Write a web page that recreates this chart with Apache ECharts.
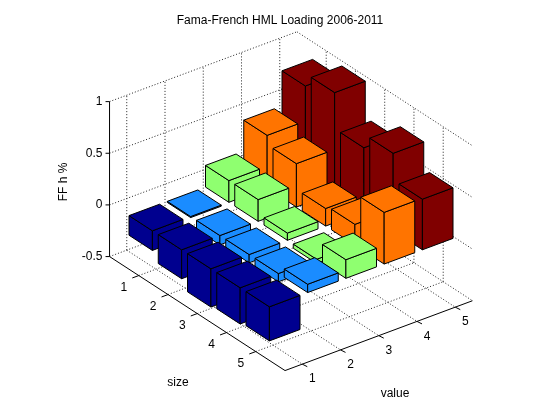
<!DOCTYPE html>
<html>
<head>
<meta charset="utf-8">
<script src="https://cdn.jsdelivr.net/npm/echarts@6/dist/echarts.min.js"></script>
<style>
  html, body { margin: 0; padding: 0; background: #fff; }
  #chart { width: 560px; height: 420px; }
</style>
</head>
<body>
<div id="chart"></div>
<script>
'use strict';

// tick labels
const valueTicks = [1, 2, 3, 4, 5];
const sizeTicks = [1, 2, 3, 4, 5];
const zTicks = [-0.5, 0, 0.5, 1];

// HML loading per value group, indexed by size 1..5
const hmlValue1 = [-0.19, -0.28, -0.37, -0.35, -0.33];
const hmlValue2 = [-0.01, -0.09, -0.08, -0.08, 0.08];
const hmlValue3 = [0.21, 0.21, 0.07, -0.04, 0.18];
const hmlValue4 = [0.51, 0.42, 0.17, 0.20, 0.50];
const hmlValue5 = [0.85, 0.97, 0.62, 0.75, 0.49];

const groupColors = ['#00008f', '#1a8cff', '#8fff70', '#ff7400', '#800000'];

// axis box limits and the fixed camera (view az -37.5, el 30, size axis reversed)
const xLim = [0.55, 5.45];
const yLim = [0, 6];
const zLim = [-0.5, 1];
const cam = { o: [156, 217.5], ex: [38.25, -14.25], ey: [29.25, 19], ez: [0, -103.3] };

function proj(x, y, z) {
  return [
    cam.o[0] + (x - 1) * cam.ex[0] + (y - 1) * cam.ey[0] + z * cam.ez[0],
    cam.o[1] + (x - 1) * cam.ex[1] + (y - 1) * cam.ey[1] + z * cam.ez[1],
  ];
}

const font = '12px "Liberation Sans", Arial, sans-serif';
const dotted = { stroke: '#222', lineWidth: 1, lineDash: [1, 2], fill: null };
const solid = { stroke: '#000', lineWidth: 1, fill: null };

function renderFrame(params, api) {
  const pt = (x, y, z) => api.coord(proj(x, y, z));
  const kids = [];
  const line = (a, b, style) => kids.push({
    type: 'line',
    shape: { x1: a[0], y1: a[1], x2: b[0], y2: b[1] },
    style: style,
    silent: true,
  });
  const text = (p, s, align, valign, rot) => kids.push({
    type: 'text',
    x: p[0], y: p[1], rotation: rot || 0,
    style: { text: s, font: font, fill: '#000', align: align, verticalAlign: valign },
    silent: true,
  });
  const [x0, x1] = xLim, [y0, y1] = yLim, [z0, z1] = zLim;

  // floor grid
  valueTicks.forEach((x) => line(pt(x, y0, z0), pt(x, y1, z0), dotted));
  sizeTicks.forEach((y) => line(pt(x0, y, z0), pt(x1, y, z0), dotted));
  // back wall (size = min)
  valueTicks.forEach((x) => line(pt(x, y0, z0), pt(x, y0, z1), dotted));
  zTicks.forEach((z) => line(pt(x0, y0, z), pt(x1, y0, z), dotted));
  // right wall (value = max)
  sizeTicks.forEach((y) => line(pt(x1, y, z0), pt(x1, y, z1), dotted));
  zTicks.forEach((z) => line(pt(x1, y0, z), pt(x1, y1, z), dotted));

  // axis lines
  line(pt(x0, y0, z0), pt(x0, y0, z1), solid);
  line(pt(x0, y0, z0), pt(x0, y1, z0), solid);
  line(pt(x0, y1, z0), pt(x1, y1, z0), solid);

  // ticks and labels
  zTicks.forEach((z) => {
    const p = pt(x0, y0, z);
    line(p, [p[0] - 4, p[1]], solid);
    text([p[0] - 7, p[1]], String(z), 'right', 'middle');
  });
  sizeTicks.forEach((y) => {
    const p = pt(x0, y, z0);
    line(p, [p[0] - 6.5, p[1] + 2.4], solid);
    text([p[0] - 15, p[1] + 12], String(y), 'center', 'middle');
  });
  valueTicks.forEach((x) => {
    const p = pt(x, y1, z0);
    line(p, [p[0] + 5, p[1] + 2.5], solid);
    text([p[0] + 10, p[1] + 15], String(x), 'center', 'middle');
  });

  // axis names
  text(api.coord([64, 182]), 'FF h %', 'center', 'middle', Math.PI / 2);
  text(api.coord([178, 383]), 'size', 'center', 'middle');
  text(api.coord([395, 394]), 'value', 'center', 'middle');

  return { type: 'group', children: kids };
}

function renderBar(params, api) {
  const x = api.value(0), y = api.value(1), v = api.value(2);
  const lo = Math.min(0, v), hi = Math.max(0, v), w = 0.4;
  const poly = (pts) => ({
    type: 'polygon',
    shape: { points: pts.map((p) => api.coord(proj(p[0], p[1], p[2]))) },
    style: { fill: api.visual('color'), stroke: '#000', lineWidth: 1, lineJoin: 'round' },
  });
  return {
    type: 'group',
    children: [
      poly([[x - w, y - w, lo], [x - w, y + w, lo], [x - w, y + w, hi], [x - w, y - w, hi]]),
      poly([[x - w, y + w, lo], [x + w, y + w, lo], [x + w, y + w, hi], [x - w, y + w, hi]]),
      poly([[x - w, y - w, hi], [x + w, y - w, hi], [x + w, y + w, hi], [x - w, y + w, hi]]),
    ],
  };
}

const groups = [hmlValue1, hmlValue2, hmlValue3, hmlValue4, hmlValue5];
// draw far groups first (highest value index), bars in a group from size 1 forward
const barSeries = groups.map((vals, i) => ({
  type: 'custom',
  name: 'value ' + valueTicks[i],
  coordinateSystem: 'cartesian2d',
  clip: false,
  renderItem: renderBar,
  itemStyle: { color: groupColors[i] },
  data: vals.map((v, j) => [valueTicks[i], sizeTicks[j], v]),
  encode: { x: -1, y: -1 },
})).reverse();

const chart = echarts.init(document.getElementById('chart'), null, { renderer: 'canvas' });
chart.setOption({
  animation: false,
  backgroundColor: '#fff',
  title: {
    text: 'Fama-French HML Loading 2006-2011',
    left: 'center',
    top: 10,
    textStyle: { fontSize: 12, fontWeight: 'normal', color: '#000', fontFamily: '"Liberation Sans", Arial, sans-serif' },
  },
  grid: { left: 0, right: 0, top: 0, bottom: 0 },
  xAxis: { type: 'value', min: 0, max: 560, show: false },
  yAxis: { type: 'value', min: 0, max: 420, inverse: true, show: false },
  series: [{
    type: 'custom',
    coordinateSystem: 'cartesian2d',
    clip: false,
    silent: true,
    renderItem: renderFrame,
    data: [[0, 0]],
  }].concat(barSeries),
});
</script>
</body>
</html>
